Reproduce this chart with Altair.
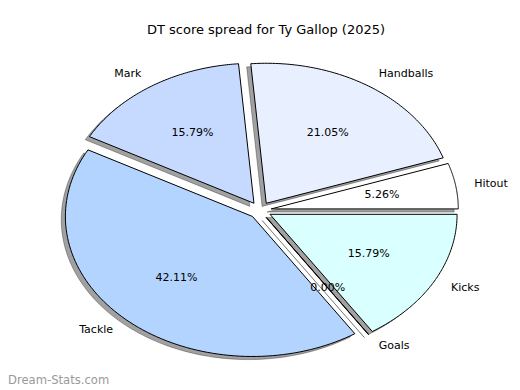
import altair as alt
import pandas as pd

# ---- data ----
CATEGORIES = ["Hitout", "Handballs", "Mark", "Tackle", "Goals", "Kicks"]
SCORES = [1, 4, 3, 8, 0, 3]
COLORS = ["#ffffff", "#e8f0ff", "#c6d9ff", "#b3d4ff", "#ffd9d9", "#d9ffff"]
TITLE = "DT score spread for Ty Gallop (2025)"
WATERMARK = "Dream-Stats.com"

EXPLODE = 0.06          # explode fraction of radius
LABEL_DIST = 1.1
PCT_DIST = 0.6
SHADOW = 0.0222         # shadow shift in radius units
N = 90                  # arc resolution

W, H = 504, 378
XDOM = [-1.3474, 1.3463]
YDOM = [-(H - 202.3) / 140.0, 202.3 / 140.0]

df = pd.DataFrame({"cat": CATEGORIES, "score": SCORES, "idx": list(range(len(CATEGORIES)))})

xs = alt.Scale(domain=XDOM, nice=False, zero=False)
ys = alt.Scale(domain=YDOM, nice=False, zero=False)
FONT = "DejaVu Sans"

base = (
    alt.Chart(df)
    .transform_window(cum="sum(score)", sort=[alt.SortField("idx")], frame=[None, 0])
    .transform_joinaggregate(total="sum(score)")
    .transform_calculate(
        a0="2*PI*(datum.cum - datum.score)/datum.total",
        a1="2*PI*datum.cum/datum.total",
    )
    .transform_calculate(am="(datum.a0 + datum.a1)/2")
    .transform_calculate(
        ox=f"{EXPLODE}*cos(datum.am)",
        oy=f"{EXPLODE}*sin(datum.am)",
    )
)

poly = (
    base.transform_calculate(k=f"sequence(-1, {N + 2})")
    .transform_flatten(["k"])
    .transform_calculate(
        r=f"(datum.k < 0 || datum.k > {N}) ? 0 : 1",
        t=f"datum.a0 + (datum.a1 - datum.a0) * clamp(datum.k, 0, {N}) / {N}",
    )
    .transform_calculate(
        px="datum.ox + datum.r*cos(datum.t)",
        py="datum.oy + datum.r*sin(datum.t)",
    )
)

shadow = poly.transform_calculate(
    sx=f"datum.px - {SHADOW}", sy=f"datum.py - {SHADOW}"
).mark_line(
    fill="#000000", fillOpacity=0.37, stroke="#000000", strokeOpacity=0.3, strokeWidth=1
).encode(
    x=alt.X("sx:Q", scale=xs, axis=None),
    y=alt.Y("sy:Q", scale=ys, axis=None),
    order="k:Q",
    detail="cat:N",
)

wedges = poly.mark_line(stroke="#000000", strokeWidth=1).encode(
    x=alt.X("px:Q", scale=xs, axis=None),
    y=alt.Y("py:Q", scale=ys, axis=None),
    order="k:Q",
    detail="cat:N",
    fill=alt.Fill("cat:N", scale=alt.Scale(domain=CATEGORIES, range=COLORS), legend=None),
)

labels = base.transform_calculate(
    lx=f"datum.ox + {LABEL_DIST}*cos(datum.am)",
    ly=f"datum.oy + {LABEL_DIST}*sin(datum.am)",
)
lab_right = labels.transform_filter("datum.lx > 0").mark_text(
    align="left", baseline="middle", font=FONT, fontSize=11, color="black"
).encode(x=alt.X("lx:Q", scale=xs), y=alt.Y("ly:Q", scale=ys), text="cat:N")
lab_left = labels.transform_filter("datum.lx <= 0").mark_text(
    align="right", baseline="middle", font=FONT, fontSize=11, color="black"
).encode(x=alt.X("lx:Q", scale=xs), y=alt.Y("ly:Q", scale=ys), text="cat:N")

pcts = base.transform_calculate(
    qx=f"datum.ox + {PCT_DIST}*cos(datum.am)",
    qy=f"datum.oy + {PCT_DIST}*sin(datum.am)",
    pct="format(100*datum.score/datum.total, '.2f') + '%'",
).mark_text(
    align="center", baseline="middle", font=FONT, fontSize=11, color="black"
).encode(x=alt.X("qx:Q", scale=xs), y=alt.Y("qy:Q", scale=ys), text="pct:N")

wm = alt.Chart(pd.DataFrame({"t": [WATERMARK]})).mark_text(
    align="left", baseline="alphabetic", font=FONT, fontSize=11.6, fontWeight="normal", color="#999999"
).encode(x=alt.value(0), y=alt.value(376), text="t:N")

chart = alt.layer(shadow, wedges, lab_right, lab_left, pcts, wm).properties(
    width=W,
    height=H,
    padding=0,
    autosize=alt.AutoSizeParams(type="none"),
    title=alt.TitleParams(
        TITLE, font=FONT, fontSize=13, fontWeight="normal", color="black",
        anchor="middle", frame="group", baseline="alphabetic", offset=-39, dx=6,
    ),
).configure_view(stroke=None)

chart.save("out.html", embed_options={"renderer": "svg", "actions": False})
